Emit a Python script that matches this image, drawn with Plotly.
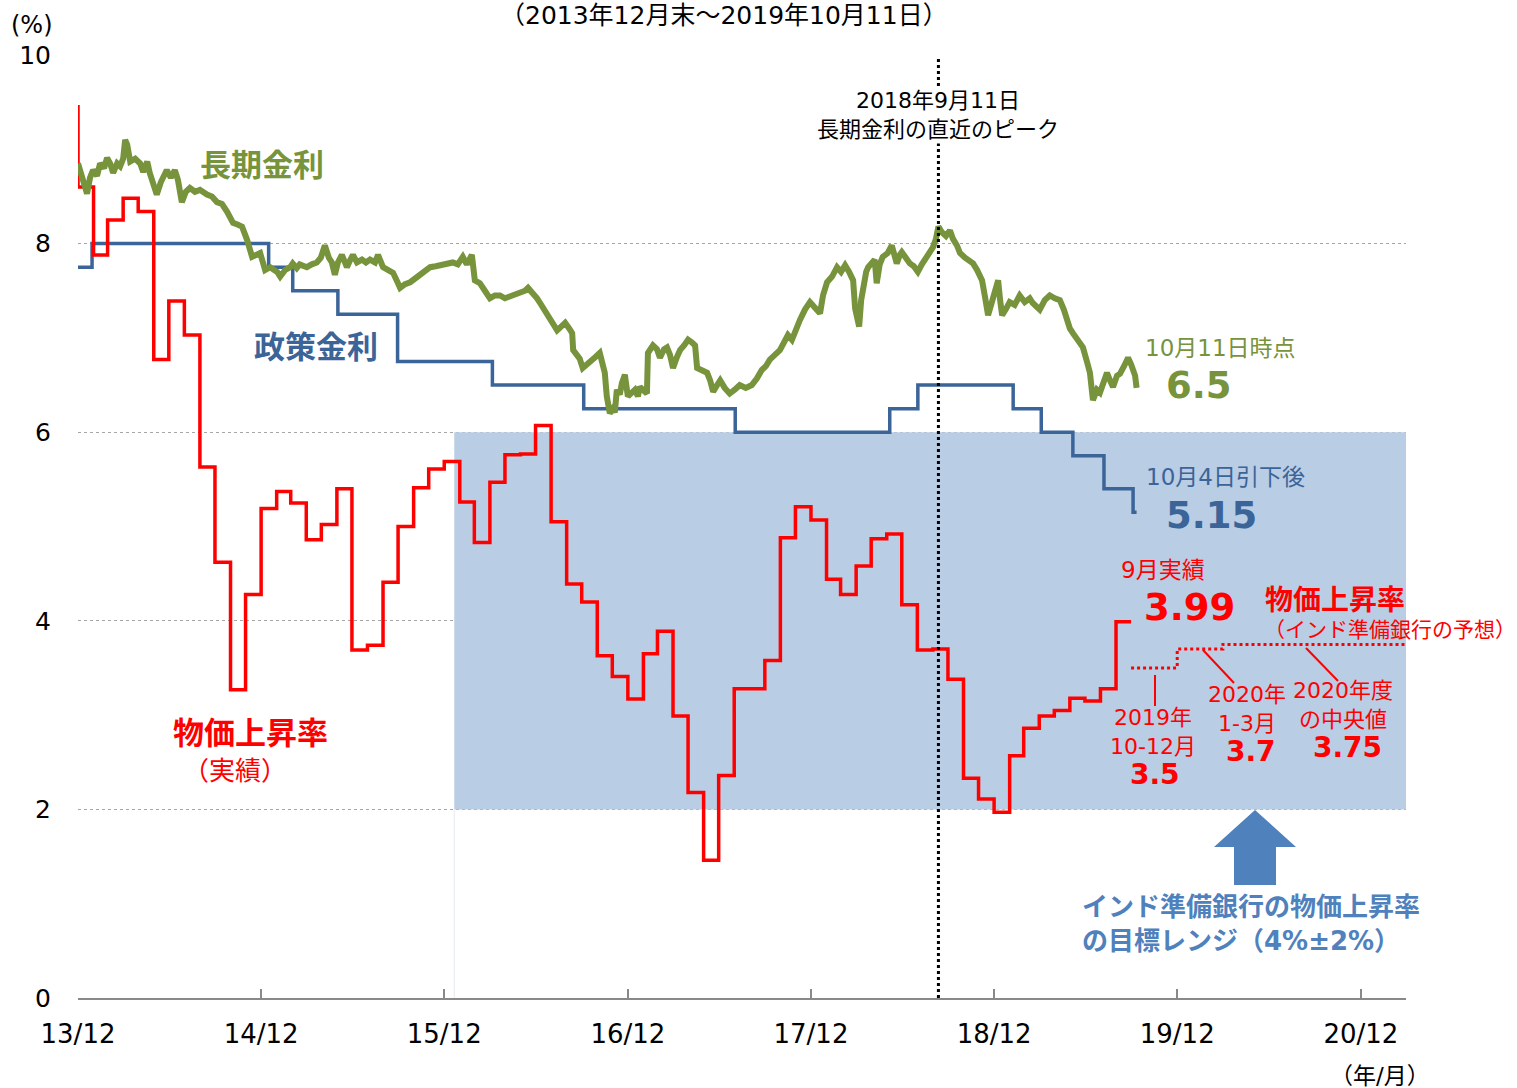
import pandas as pd
import plotly.graph_objects as go

# ---------------- data ----------------
# CPI inflation (monthly, Dec-2013 .. Sep-2019), %
cpi_values = [9.47,
              8.6, 7.88, 8.25, 8.48, 8.34, 6.77, 7.39, 7.03, 5.63, 4.62, 3.27, 4.28,
              5.19, 5.37, 5.25, 4.86, 5.02, 5.40, 3.69, 3.74, 4.41, 5.00, 5.41, 5.61,
              5.69, 5.26, 4.83, 5.47, 5.76, 5.77, 6.07, 5.05, 4.39, 4.20, 3.63, 3.41,
              3.17, 3.65, 3.89, 2.99, 2.18, 1.46, 2.36, 3.28, 3.28, 3.58, 4.88, 5.21,
              5.07, 4.44, 4.28, 4.58, 4.87, 4.92, 4.17, 3.69, 3.70, 3.38, 2.33, 2.11,
              1.97, 2.57, 2.86, 2.99, 3.05, 3.18, 3.15, 3.28, 3.99]
cpi_first_month = "2013-12"

# RBI forecast of CPI
fc_dates = ["2019-09-30", "2019-12-31", "2020-03-31", "2021-03-31"]
fc_values = [3.5, 3.5, 3.7, 3.75]

# Policy (repo) rate
policy_dates = ["2013-12-31", "2014-01-28", "2015-01-15", "2015-03-04", "2015-06-02",
                "2015-09-29", "2016-04-05", "2016-10-04", "2017-08-02", "2018-06-06",
                "2018-08-01", "2019-02-07", "2019-04-04", "2019-06-06", "2019-08-07",
                "2019-10-04", "2019-10-11"]
policy_values = [7.75, 8.0, 7.75, 7.5, 7.25, 6.75, 6.5, 6.25, 6.0, 6.25,
                 6.5, 6.25, 6.0, 5.75, 5.4, 5.15, 5.15]

# Long-term (10y) yield: days since 2013-12-31 and values
ltr_start = "2013-12-31"
ltr_days = [0,4,12,18,24,30,38,44,52,58,
            64,70,78,84,90,94,98,104,114,124,
            130,138,143,151,157,165,171,177,185,193,
            199,207,215,223,233,243,257,267,277,287,
            297,309,319,327,337,343,347,355,363,373,
            383,397,403,413,423,428,436,442,456,466,
            476,484,492,500,506,512,518,526,536,542,
            548,556,566,574,582,592,598,608,618,628,
            636,642,652,662,672,682,692,702,713,727,
            737,747,757,767,775,781,785,791,801,811,
            821,831,841,851,861,871,881,891,897,907,
            915,921,929,935,945,955,963,971,979,985,
            987,994,1000,1006,1016,1024,1032,1040,1046,1050,
            1054,1060,1066,1070,1074,1080,1084,1090,1096,1102,
            1110,1116,1120,1128,1134,1136,1146,1154,1160,1168,
            1174,1180,1186,1194,1200,1208,1216,1224,1230,1234,
            1244,1254,1260,1266,1274,1280,1289,1299,1309,1319,
            1331,1343,1353,1363,1371,1379,1389,1399,1407,1415,
            1423,1431,1439,1449,1459,1469,1479,1485,1493,1503,
            1513,1521,1529,1537,1545,1549,1557,1561,1565,1571,
            1575,1582,1588,1592,1598,1604,1614,1622,1628,1632,
            1638,1642,1650,1658,1666,1674,1682,1692,1698,1704,
            1710,1715,1722,1730,1738,1744,1752,1758,1768,1776,
            1784,1792,1798,1802,1808,1814,1820,1826,1834,1838,
            1842,1849,1857,1867,1877,1887,1897,1903,1911,1917,
            1927,1937,1947,1957,1965,1971,1977,1983,1993,2003,
            2011,2017,2023,2031,2037,2045,2051,2057,2063,2071,
            2077,2085,2093,2099,2103,2107,2110]
ltr_values = [8.85,8.78,8.65,8.53,8.7,8.78,8.72,8.85,8.8,8.91,
              8.85,8.75,8.85,8.82,8.9,9.1,9.05,8.87,8.9,8.85,
              8.76,8.87,8.75,8.6,8.52,8.65,8.72,8.78,8.7,8.78,
              8.68,8.44,8.55,8.59,8.55,8.57,8.52,8.5,8.44,8.42,
              8.34,8.22,8.2,8.18,8.04,7.95,7.86,7.88,7.9,7.72,
              7.75,7.7,7.65,7.72,7.75,7.79,7.74,7.78,7.75,7.78,
              7.8,7.85,7.98,7.85,7.8,7.67,7.8,7.88,7.75,7.82,
              7.88,7.8,7.83,7.8,7.83,7.8,7.88,7.75,7.72,7.69,
              7.6,7.53,7.57,7.59,7.63,7.67,7.7,7.75,7.76,7.77,
              7.78,7.8,7.78,7.86,7.78,7.84,7.88,7.61,7.58,7.5,
              7.42,7.45,7.45,7.42,7.44,7.45,7.47,7.5,7.53,7.48,
              7.42,7.37,7.3,7.24,7.16,7.08,7.12,7.16,7.1,7.05,
              6.87,6.82,6.78,6.68,6.72,6.77,6.8,6.84,6.72,6.63,
              6.38,6.2,6.25,6.21,6.45,6.4,6.52,6.61,6.38,6.42,
              6.45,6.38,6.48,6.44,6.41,6.84,6.92,6.88,6.79,6.88,
              6.9,6.82,6.68,6.8,6.87,6.92,6.98,6.95,6.92,6.68,
              6.65,6.63,6.55,6.43,6.5,6.55,6.47,6.41,6.45,6.5,
              6.47,6.5,6.57,6.66,6.7,6.77,6.82,6.87,6.95,7.03,
              6.98,7.1,7.19,7.3,7.38,7.32,7.26,7.45,7.59,7.65,
              7.75,7.7,7.77,7.7,7.61,7.31,7.12,7.4,7.54,7.7,
              7.75,7.8,7.83,7.58,7.78,7.86,7.9,7.98,7.88,7.79,
              7.88,7.91,7.85,7.79,7.76,7.7,7.78,7.85,7.9,7.96,
              8.05,8.18,8.12,8.08,8.14,8.05,7.98,7.9,7.85,7.82,
              7.79,7.72,7.65,7.61,7.43,7.24,7.35,7.45,7.61,7.4,
              7.24,7.3,7.38,7.35,7.45,7.38,7.42,7.37,7.33,7.3,
              7.4,7.45,7.42,7.4,7.3,7.19,7.1,7.05,6.98,6.9,
              6.75,6.63,6.34,6.45,6.42,6.55,6.63,6.55,6.48,6.6,
              6.62,6.7,6.79,6.72,6.66,6.6,6.47]

tick_dates = ["2013-12-31", "2014-12-31", "2015-12-31", "2016-12-31",
              "2017-12-31", "2018-12-31", "2019-12-31", "2020-12-31"]
tick_labels = ["13/12", "14/12", "15/12", "16/12", "17/12", "18/12", "19/12", "20/12"]
y_ticks = [0, 2, 4, 6, 8, 10]

peak_date = "2018-09-11"
target_low, target_high = 2, 6
target_start = "2016-01-20"
x_range = ["2013-12-31", "2021-03-31"]

# ---------------- derived ----------------
cpi_months = pd.period_range(cpi_first_month, periods=len(cpi_values), freq="M").to_timestamp(how="end").normalize()
n = min(len(ltr_days), len(ltr_values))
ltr_dates = pd.Timestamp(ltr_start) + pd.to_timedelta(ltr_days[:n], unit="D")

GREEN = "#77933C"
BLUE = "#3B6498"
RED = "#FF0000"
BAND = "#B9CDE5"
ARROW = "#4F81BD"
FONT = "DejaVu Sans, Noto Sans CJK JP, sans-serif"

fig = go.Figure()
fig.add_trace(go.Scatter(x=pd.to_datetime(policy_dates), y=policy_values, mode="lines",
                         line=dict(color=BLUE, width=3.5, shape="hv")))
fig.add_trace(go.Scatter(x=cpi_months, y=cpi_values, mode="lines",
                         line=dict(color=RED, width=3.5, shape="vh")))
fig.add_trace(go.Scatter(x=ltr_dates, y=ltr_values[:n], mode="lines",
                         line=dict(color=GREEN, width=6)))
fig.add_trace(go.Scatter(x=pd.to_datetime(fc_dates), y=fc_values, mode="lines",
                         line=dict(color=RED, width=3, shape="vh", dash="dot")))

# plot-area geometry (pixels of the reference) for decorations
L, R, T, B = 78, 1406, 55, 998
W, H = 1517, 1088


def PX(x):
    return (x - L) / (R - L)


def PY(y):
    return (B - y) / (B - T)


shapes = []
# target band
shapes.append(dict(type="rect", xref="x", yref="y", x0=target_start, x1=x_range[1],
                   y0=target_low, y1=target_high, fillcolor=BAND, line=dict(width=0),
                   layer="between"))
shapes.append(dict(type="line", xref="x", yref="y", x0=target_start, x1=target_start,
                   y0=0, y1=target_low, line=dict(color="#E4EBF4", width=1), layer="between"))
# peak dotted line
shapes.append(dict(type="line", xref="x", yref="paper", x0=peak_date, x1=peak_date,
                   y0=0, y1=PY(58), line=dict(color="black", width=3, dash="dot"), layer="above"))
# leader lines
shapes.append(dict(type="line", xref="paper", yref="paper", x0=PX(1155), x1=PX(1155),
                   y0=PY(675), y1=PY(706), line=dict(color=RED, width=2)))
shapes.append(dict(type="line", xref="paper", yref="paper", x0=PX(1203), x1=PX(1234),
                   y0=PY(650), y1=PY(683), line=dict(color=RED, width=2)))
shapes.append(dict(type="line", xref="paper", yref="paper", x0=PX(1306), x1=PX(1338),
                   y0=PY(648), y1=PY(681), line=dict(color=RED, width=2)))
# block arrow
ax_pts = [(1255, 810), (1296, 847), (1276, 847), (1276, 885), (1234, 885), (1234, 847), (1214, 847)]
path = "M " + " L ".join(f"{PX(a):.5f},{PY(b):.5f}" for a, b in ax_pts) + " Z"
shapes.append(dict(type="path", xref="paper", yref="paper", path=path,
                   fillcolor=ARROW, line=dict(width=0)))

ann = []


def A(x, y, text, size, color="black", bold=False, xanchor="center", align="center", bg=None):
    t = f"<b>{text}</b>" if bold else text
    d = dict(xref="paper", yref="paper", x=PX(x), y=PY(y), text=t, showarrow=False,
             xanchor=xanchor, yanchor="middle", align=align,
             font=dict(family=FONT, size=size, color=color))
    if bg:
        d["bgcolor"] = bg
    ann.append(d)


A(724, 15, "（2013年12月末～2019年10月11日）", 25)
A(32, 25, "(%)", 24)
A(262, 165, "長期金利", 31, GREEN, True)
A(316, 347, "政策金利", 31, BLUE, True)
A(250, 733, "物価上昇率", 31, RED, True)
A(235, 771, "（実績）", 26, RED)
A(938, 115, "2018年9月11日<br>長期金利の直近のピーク", 22, "black", bg="white")
A(1220, 348, "10月11日時点", 23, GREEN)
A(1199, 386, "6.5", 37, GREEN, True)
A(1225, 477, "10月4日引下後", 23, BLUE)
A(1211, 515, "5.15", 37, BLUE, True)
A(1163, 570, "9月実績", 23, RED)
A(1189, 607, "3.99", 37, RED, True)
A(1335, 600, "物価上昇率", 28, RED, True)
A(1390, 630, "（インド準備銀行の予想）", 21, RED)
A(1153, 732, "2019年<br>10-12月", 22, RED)
A(1155, 774, "3.5", 28, RED, True)
A(1247, 709, "2020年<br>1-3月", 22, RED)
A(1251, 751, "3.7", 28, RED, True)
A(1343, 705, "2020年度<br>の中央値", 22, RED)
A(1347, 747, "3.75", 28, RED, True)
A(1080, 924, "インド準備銀行の物価上昇率<br>の目標レンジ（4%±2%）", 26, ARROW, True,
  xanchor="left", align="left")
A(1380, 1076, "（年/月）", 23)

fig.update_layout(
    width=W, height=H,
    margin=dict(l=L, r=W - R, t=T, b=H - B, pad=0),
    paper_bgcolor="white", plot_bgcolor="white",
    showlegend=False,
    font=dict(family=FONT, size=22, color="black"),
    shapes=shapes, annotations=ann,
    xaxis=dict(type="date", range=x_range, showgrid=False, zeroline=False,
               showline=True, linecolor="#898989", linewidth=2,
               ticks="inside", ticklen=9, tickwidth=1.5, tickcolor="#898989",
               tickvals=tick_dates, ticktext=tick_labels,
               tickfont=dict(family=FONT, size=26, color="black"),
               ticklabelstandoff=12),
    yaxis=dict(range=[0, 10], tickvals=y_ticks, showgrid=True, gridcolor="#A6A6A6",
               griddash="dot", gridwidth=1, zeroline=False, showline=False, ticks="",
               tickfont=dict(family=FONT, size=25, color="black"),
               ticklabelstandoff=26),
)

fig.write_html("out.html", config={"displayModeBar": False},
               post_script="document.body.style.margin='0';document.body.style.overflow='hidden';")
